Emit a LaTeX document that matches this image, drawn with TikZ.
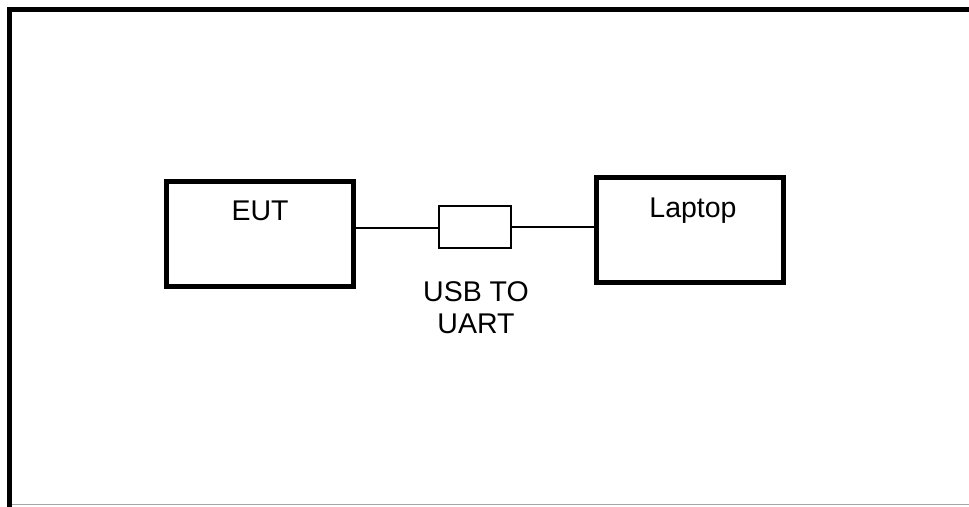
\documentclass[tikz,border=0pt]{standalone}
\usepackage{fontspec}
\setmainfont{Liberation Sans}
\begin{document}
\begin{tikzpicture}[x=1pt,y=-1pt,
  bigbox/.style={draw=black,line width=5pt,minimum width=187pt,minimum height=105pt,inner sep=0pt},
  smallbox/.style={draw=black,line width=2pt,minimum width=72pt,minimum height=42pt,inner sep=0pt},
  lbl/.style={font=\fontsize{28.5}{32}\selectfont,inner sep=0pt,align=center},
  wire/.style={draw=black,line width=1.6pt}]
\useasboundingbox (0,0) rectangle (969,506);
% outer frame
\draw[line width=5pt,line cap=rect] (9.5,506) -- (9.5,9.5) -- (969,9.5);
\draw[line width=1pt,draw=gray!70] (12,504.5) -- (969,504.5);
% boxes
\node[bigbox] (eut) at (260,234) {};
\node[bigbox] (laptop) at (689.5,229.5) {};
\node[smallbox] (usb) at (475,226.5) {};
% labels
\node[lbl,anchor=base] (eutl) at (260,220.5) {EUT};
\node[lbl,anchor=base] (lapl) at (693,217) {Laptop};
\node[lbl,anchor=center] (usbl) at (476,308) {USB TO\\UART};
% wires
\draw[wire] ([yshift=-1.5pt]usb.west) -- ([yshift=-1.5pt]usb.west -| eut.east);
\draw[wire] ([yshift=-0.5pt]usb.east) -- ([yshift=-0.5pt]usb.east -| laptop.west);
\end{tikzpicture}
\end{document}
